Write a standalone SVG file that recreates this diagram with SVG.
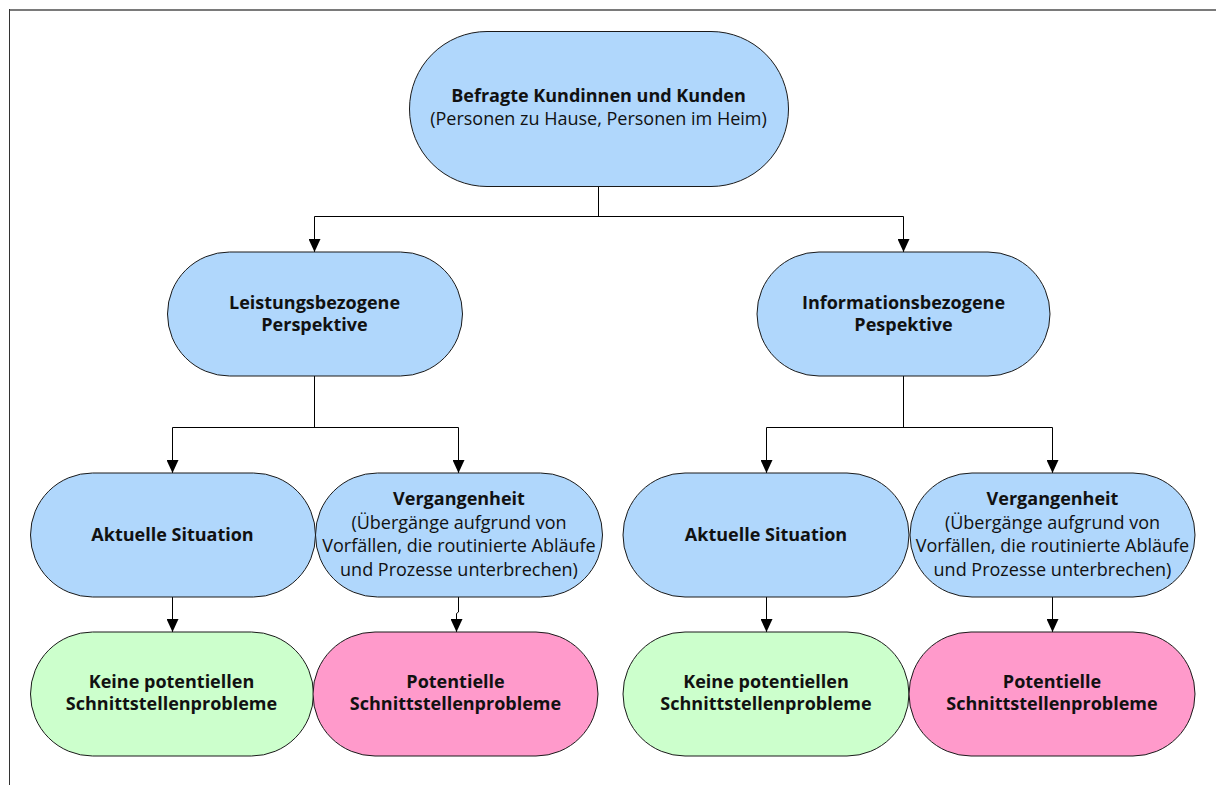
<svg xmlns="http://www.w3.org/2000/svg" width="1216" height="785" viewBox="0 0 1216 785">
<defs>
<style>
.node{stroke:#1a1a1a;stroke-width:1}
.blue{fill:#B0D7FC}
.green{fill:#CCFFCC}
.pink{fill:#FF9ACB}
text{font-family:"Open Sans","Noto Sans","DejaVu Sans",sans-serif;fill:#111;text-anchor:middle}
.b{font-weight:bold;font-size:18px}
.r{font-size:18px}
.conn{fill:none;stroke:#000;stroke-width:1}
</style>
<marker id="arr" viewBox="0 0 13 12" refX="13" refY="6" markerWidth="13" markerHeight="12" markerUnits="userSpaceOnUse" orient="auto">
<path d="M0,0 L13,6 L0,12 z" fill="#000"/>
</marker>
</defs>
<rect x="0" y="0" width="1216" height="785" fill="#fff"/>
<g id="frame">
<line x1="9" y1="10" x2="1216" y2="10" stroke="#7a7a7a" stroke-width="2"/>
<line x1="9.5" y1="9" x2="9.5" y2="785" stroke="#333" stroke-width="1"/>
</g>
<g id="connectors" class="conn">
<path d="M598.5,186 V216.5 M314.5,216.5 H903.5"/>
<path d="M314.5,216.5 V252" marker-end="url(#arr)"/>
<path d="M903.5,216.5 V252" marker-end="url(#arr)"/>
<path d="M314.5,376 V427.5 M172.5,427.5 H458.5"/>
<path d="M172.5,427.5 V473" marker-end="url(#arr)"/>
<path d="M458.5,427.5 V473" marker-end="url(#arr)"/>
<path d="M903.5,376 V427.5 M766.5,427.5 H1052.5"/>
<path d="M766.5,427.5 V473" marker-end="url(#arr)"/>
<path d="M1052.5,427.5 V473" marker-end="url(#arr)"/>
<path d="M172.5,597 V632" marker-end="url(#arr)"/>
<path d="M458.5,597 V612 L456.5,613.5 V632" marker-end="url(#arr)"/>
<path d="M766.5,597 V632" marker-end="url(#arr)"/>
<path d="M1052.5,597 V632" marker-end="url(#arr)"/>
</g>
<g id="n-top">
<rect class="node blue" x="409.5" y="31.5" width="379" height="155" rx="77.5" ry="77.5"/>
<text class="b" x="598.5" y="102">Befragte Kundinnen und Kunden</text>
<text class="r" x="598.5" y="125">(Personen zu Hause, Personen im Heim)</text>
</g>
<g id="n-leistung">
<rect class="node blue" x="167.5" y="252" width="295" height="124" rx="62" ry="62"/>
<text class="b" x="314.5" y="309">Leistungsbezogene</text>
<text class="b" x="314.5" y="331">Perspektive</text>
</g>
<g id="n-information">
<rect class="node blue" x="757" y="252" width="293" height="124" rx="62" ry="62"/>
<text class="b" x="903.5" y="309">Informationsbezogene</text>
<text class="b" x="903.5" y="331">Pespektive</text>
</g>
<g id="n-aktuell-l">
<rect class="node blue" x="30.5" y="473" width="285" height="124" rx="62" ry="62"/>
<text class="b" x="172.5" y="541">Aktuelle Situation</text>
</g>
<g id="n-vergangen-l">
<rect class="node blue" x="315.5" y="473" width="287" height="124" rx="62" ry="62"/>
<text class="b" x="459" y="505">Vergangenheit</text>
<text class="r" x="459" y="528.5">(Übergänge aufgrund von</text>
<text class="r" x="459" y="552">Vorfällen, die routinierte Abläufe</text>
<text class="r" x="459" y="575.5">und Prozesse unterbrechen)</text>
</g>
<g id="n-aktuell-r">
<rect class="node blue" x="623" y="473" width="286" height="124" rx="62" ry="62"/>
<text class="b" x="766" y="541">Aktuelle Situation</text>
</g>
<g id="n-vergangen-r">
<rect class="node blue" x="910" y="473" width="285" height="124" rx="62" ry="62"/>
<text class="b" x="1052.5" y="505">Vergangenheit</text>
<text class="r" x="1052.5" y="528.5">(Übergänge aufgrund von</text>
<text class="r" x="1052.5" y="552">Vorfällen, die routinierte Abläufe</text>
<text class="r" x="1052.5" y="575.5">und Prozesse unterbrechen)</text>
</g>
<g id="n-keine-l">
<rect class="node green" x="30.5" y="632" width="283" height="124" rx="62" ry="62"/>
<text class="b" x="171.5" y="688">Keine potentiellen</text>
<text class="b" x="171.5" y="710">Schnittstellenprobleme</text>
</g>
<g id="n-pot-l">
<rect class="node pink" x="313" y="632" width="285" height="124" rx="62" ry="62"/>
<text class="b" x="455.5" y="688">Potentielle</text>
<text class="b" x="455.5" y="710">Schnittstellenprobleme</text>
</g>
<g id="n-keine-r">
<rect class="node green" x="623" y="632" width="286" height="124" rx="62" ry="62"/>
<text class="b" x="766" y="688">Keine potentiellen</text>
<text class="b" x="766" y="710">Schnittstellenprobleme</text>
</g>
<g id="n-pot-r">
<rect class="node pink" x="909" y="632" width="286" height="124" rx="62" ry="62"/>
<text class="b" x="1052" y="688">Potentielle</text>
<text class="b" x="1052" y="710">Schnittstellenprobleme</text>
</g>
</svg>
